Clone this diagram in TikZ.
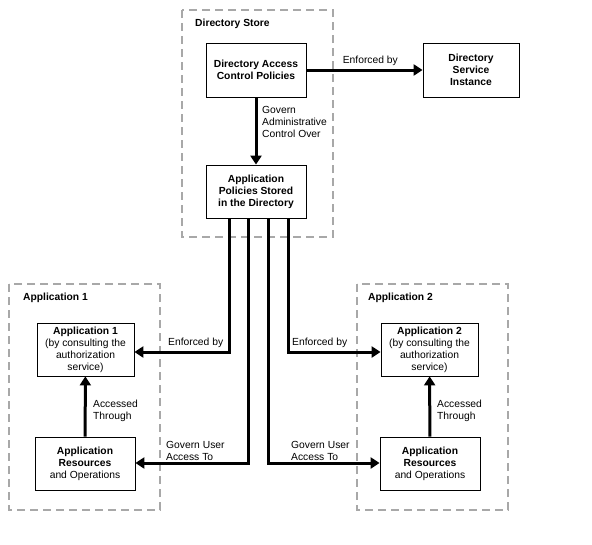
\documentclass[tikz,border=0pt]{standalone}
\usepackage{fontspec}
\setmainfont{Liberation Sans}
\usetikzlibrary{arrows.meta}
\pgfdeclarelayer{edgelayer}
\pgfdeclarelayer{nodelayer}
\pgfsetlayers{edgelayer,nodelayer,main}
\definecolor{dashgray}{RGB}{168,168,168}
\tikzstyle{policy}=[rectangle, draw=black, fill=white, line width=0.8pt, minimum width=100pt, minimum height=54pt, align=center, inner sep=1pt, font=\fontsize{10.3}{12}\selectfont]
\tikzstyle{region}=[draw=dashgray, line width=2.6pt, dash pattern=on 8pt off 5pt]
\tikzstyle{title}=[anchor=west, inner sep=0pt, font=\fontsize{10.3}{12}\selectfont\bfseries]
\tikzstyle{tag}=[anchor=west, align=left, inner sep=0pt, font=\fontsize{10.3}{12}\selectfont]
\tikzstyle{flow}=[-{Triangle[length=9pt,width=11pt]}, draw=black, line width=3pt]

\begin{document}
\begin{tikzpicture}[x=1pt, y=-1pt]
            \useasboundingbox (0, 0) rectangle (592, 544);
            \begin{pgfonlayer}{nodelayer}
                \node [style=policy] (dacp) at (256, 70) {\textbf{Directory Access}\\\textbf{Control Policies}};
                \node [style=policy, minimum width=96pt] (dsi) at (471, 70) {\textbf{Directory}\\\textbf{Service}\\\textbf{Instance}};
                \node [style=policy, minimum height=53pt] (aps) at (256, 191.5) {\textbf{Application}\\\textbf{Policies Stored}\\\textbf{in the Directory}};
                \node [style=policy, minimum width=97pt, minimum height=53pt] (app1) at (85.5, 349.5) {\textbf{Application 1}\\(by consulting the\\authorization\\service)};
                \node [style=policy, minimum height=53pt] (res1) at (85, 463.5) {\textbf{Application}\\\textbf{Resources}\\and Operations};
                \node [style=policy, minimum width=97pt, minimum height=53pt] (app2) at (429.5, 349.5) {\textbf{Application 2}\\(by consulting the\\authorization\\service)};
                \node [style=policy, minimum height=53pt] (res2) at (430, 463.5) {\textbf{Application}\\\textbf{Resources}\\and Operations};
                \node [style=title] (storelbl) at (195, 24) {Directory Store};
                \node [style=title] (app1lbl) at (23, 298) {Application 1};
                \node [style=title] (app2lbl) at (368, 298) {Application 2};
                \coordinate (enf1) at (229, 352);
                \coordinate (gov1) at (248, 463);
                \coordinate (gov2) at (268, 463);
                \coordinate (enf2) at (288, 352);
            \end{pgfonlayer}
            \begin{pgfonlayer}{edgelayer}
                \draw [style=region] (182, 10) rectangle (333, 237);
                \draw [style=region] (9, 284) rectangle (160, 510);
                \draw [style=region] (357, 284) rectangle (508, 510);
                \draw [style=flow] (dacp) to node [style=tag, anchor=south, above=3pt, pos=0.55] {Enforced by} (dsi);
                \draw [style=flow] (dacp) to (aps);
                \draw [style=flow] (aps.south -| enf1) -- (enf1) -- (app1.east |- enf1);
                \draw [style=flow] (aps.south -| gov1) -- (gov1) -- (res1.east |- gov1);
                \draw [style=flow] (aps.south -| gov2) -- (gov2) -- (res2.west |- gov2);
                \draw [style=flow] (aps.south -| enf2) -- (enf2) -- (app2.west |- enf2);
                \draw [style=flow] (res1) to (app1);
                \draw [style=flow] (res2) to (app2);
            \end{pgfonlayer}
            \node [style=tag] (govadm) at (262, 122) {Govern\\Administrative\\Control Over};
            \node [style=tag] (enf1lbl) at (168, 343) {Enforced by};
            \node [style=tag] (gov1lbl) at (166, 451) {Govern User\\Access To};
            \node [style=tag] (acc1lbl) at (93, 411) {Accessed\\Through};
            \node [style=tag] (enf2lbl) at (292, 343) {Enforced by};
            \node [style=tag] (gov2lbl) at (291, 451) {Govern User\\Access To};
            \node [style=tag] (acc2lbl) at (437, 411) {Accessed\\Through};
        \end{tikzpicture}
\end{document}
